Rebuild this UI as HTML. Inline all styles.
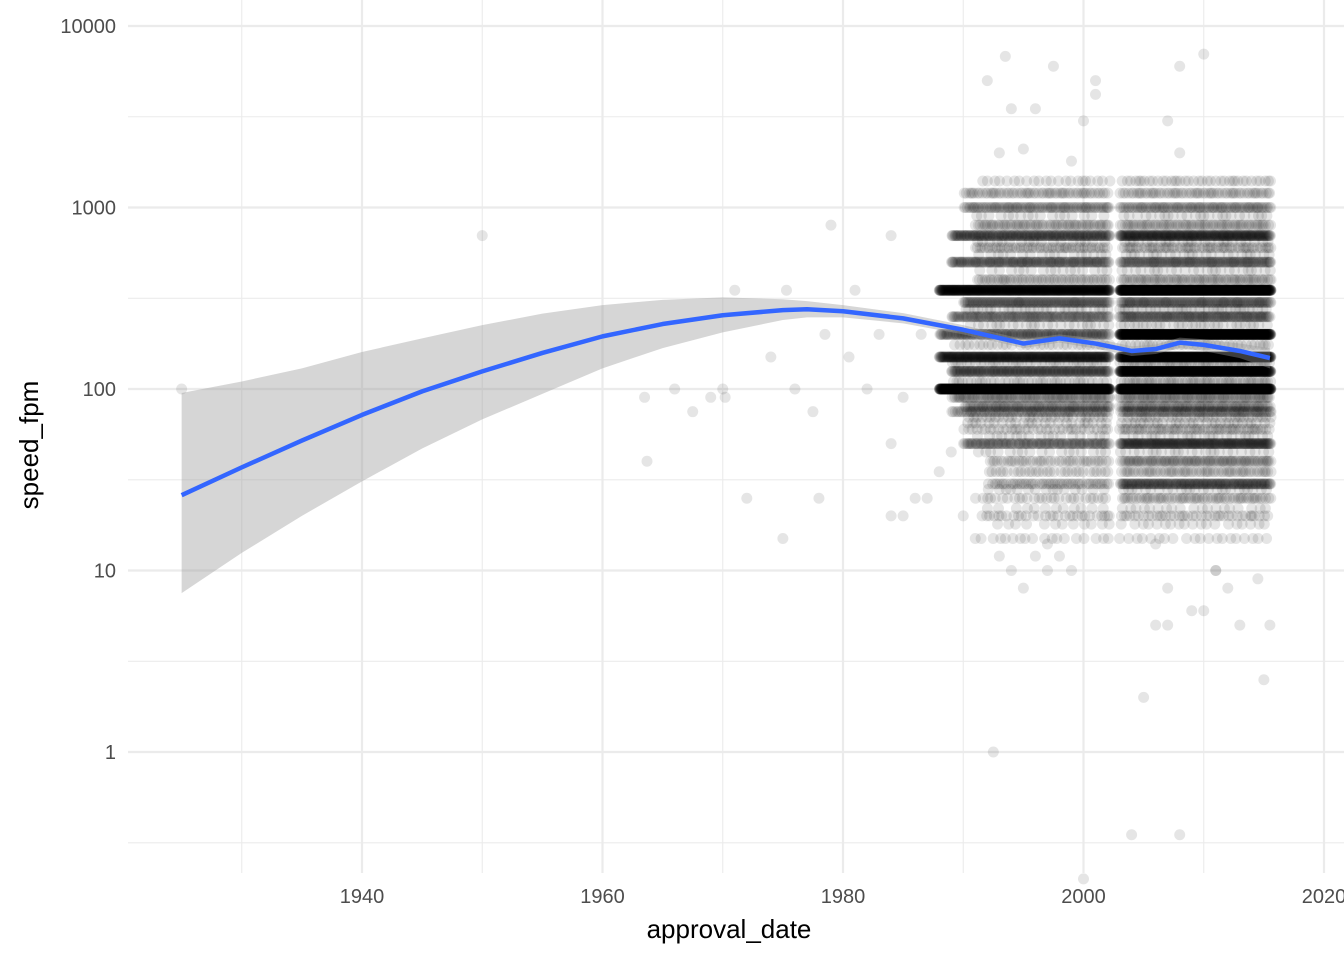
<!DOCTYPE html>
<html><head><meta charset="utf-8"><style>
html,body{margin:0;padding:0;background:#fff;}
svg{display:block;font-family:"Liberation Sans",sans-serif;}
</style></head><body>
<svg id="chart" width="1344" height="960" viewBox="0 0 1344 960" xmlns="http://www.w3.org/2000/svg">
<g id="grid"></g>
<g id="points"></g>
<g id="smooth"></g>
<g id="axes"></g>
<text x="729" y="938" font-size="26" text-anchor="middle" fill="#000">approval_date</text>
<text transform="translate(38,445) rotate(-90)" font-size="26" text-anchor="middle" fill="#000">speed_fpm</text>
</svg>
<script>
const xTicks=[1940,1960,1980,2000,2020];
const xMinor=[1930,1950,1970,1990,2010];
const yTicks=[1,10,100,1000,10000];
const yTickLabels=["1","10","100","1000","10000"];
const yMinor=[0.316,3.16,31.6,316,3162];
const bandSpeed=[100,125,150,200,250,300,350,400,500,600,700,800,1000,1200,1400,90,80,75,60,50,40,35,30,25,20,15,110,140,175,225,275,450,550,650,900,70,65,45,55,28,22,18];
const bandStart=[1988,1989,1988,1988,1989,1990,1988,1991,1989,1991,1989,1991,1990,1990,1991,1989,1990,1989,1990,1990,1992,1992,1992,1991,1991,1991,1989,1989,1989,1990,1990,1991,1991,1991,1991,1990,1990,1991,1991,1992,1992,1992];
const bandDensA=[7,1.5,2.5,1.2,1,1.2,4,0.5,1.2,0.5,1.5,0.6,0.8,0.5,0.2,0.8,0.8,0.7,0.3,1,0.4,0.3,0.5,0.25,0.25,0.15,0.3,0.3,0.25,0.2,0.25,0.15,0.15,0.15,0.15,0.25,0.2,0.15,0.15,0.15,0.12,0.12];
const bandDensB=[8,5,5,6,1.2,1.2,7,0.6,1.2,0.5,2,0.6,0.8,0.5,0.3,0.8,0.8,0.8,0.5,1.8,0.8,0.5,1.4,0.5,0.3,0.15,0.5,0.5,0.3,0.25,0.3,0.2,0.2,0.2,0.2,0.3,0.25,0.2,0.2,0.2,0.15,0.15];
const ptYear=[1925,1950,1963.5,1963.7,1966,1967.5,1969,1970,1970.2,1971,1972,1974,1975,1975.3,1976,1977.5,1978,1978.5,1979,1980.5,1981,1982,1983,1984,1984,1984,1985,1986,1985,1992,1993,1993.5,1994,1995,1996,1997.5,1999,2000,2001,2001,2007,2008,2008,2010,1992.5,2004,2008,2000,2005,2006,2007,2007,2009,2010,2011,2012,2013,2014.5,2015,2015.5,1994,1995,1996,1997,1998,1999,2003,1990,1991,1987,1986.5,1988,1989,1993,1997,2002,2006,2011,2014];
const ptSpeed=[100,700,90,40,100,75,90,100,90,350,25,150,15,350,100,75,25,200,800,150,350,100,200,700,50,20,20,25,90,5000,2000,6800,3500,2100,3500,6000,1800,3000,5000,4200,3000,6000,2000,7000,1,0.35,0.35,0.2,2,5,5,8,6,6,10,8,5,9,2.5,5,10,8,12,10,12,10,15,20,15,25,200,35,45,12,14,20,14,10,20];
const fitYear=[1925,1930,1935,1940,1945,1950,1955,1960,1965,1970,1975,1977,1980,1985,1990,1995,1998,2001,2004,2006,2008,2010,2013,2015.5];
const fitVal=[26,37,52,72,97,125,158,195,228,255,272,275,268,245,212,178,190,178,162,166,180,175,162,148];
const fitHi=[95,110,130,160,190,225,260,290,310,320,312,305,290,262,225,188,200,190,172,176,192,188,178,168];
const fitLo=[7.5,12.5,20,31,47,68,94,130,168,205,240,248,248,230,200,168,180,167,152,156,168,162,148,130];

const NS="http://www.w3.org/2000/svg";
const X0=128,X1=1344,Y0=0,Y1=873;
const xs=y=>362+(y-1940)*12.025;
const ys=v=>752-181.5*Math.log10(v);
function mk(tag,attrs,parent){const e=document.createElementNS(NS,tag);for(const k in attrs)e.setAttribute(k,attrs[k]);parent.appendChild(e);return e;}
const grid=document.getElementById('grid'),pts=document.getElementById('points'),sm=document.getElementById('smooth'),axes=document.getElementById('axes');
xMinor.forEach(t=>{const l=mk('line',{x1:xs(t),x2:xs(t),y1:Y0,y2:Y1,stroke:'#ebebeb','stroke-width':1.1},grid);
});
yMinor.forEach(t=>{const l=mk('line',{x1:X0,x2:X1,y1:ys(t),y2:ys(t),stroke:'#ebebeb','stroke-width':1.1},grid);
});
xTicks.forEach(t=>{const l=mk('line',{x1:xs(t),x2:xs(t),y1:Y0,y2:Y1,stroke:'#ebebeb','stroke-width':2.2},grid);

const tx=mk('text',{x:xs(t),y:903,'font-size':20,'text-anchor':'middle',fill:'#4d4d4d'},axes);tx.textContent=t;
});
yTicks.forEach((t,i)=>{const l=mk('line',{x1:X0,x2:X1,y1:ys(t),y2:ys(t),stroke:'#ebebeb','stroke-width':2.2},grid);

const tx=mk('text',{x:116,y:ys(t)+7,'font-size':20,'text-anchor':'end',fill:'#4d4d4d'},axes);tx.textContent=yTickLabels[i];
});
// dense bands (low-discrepancy spacing for a natural look)
bandSpeed.forEach((s,i)=>{
  const segs=[[bandStart[i],2002.2,bandDensA[i]],[2003,2015.6,bandDensB[i]]];
  segs.forEach(([a,b,d],si)=>{const n=Math.round((b-a)*10*d);for(let k=0;k<n;k++){
    const f=((k+1+i*0.37+si*0.5)*0.6180339887)%1;
    const c=mk('circle',{cx:xs(a+(b-a)*f),cy:ys(s),r:5.5,fill:'#000','fill-opacity':0.1},pts);
    }});
});
ptYear.forEach((y,i)=>{const c=mk('circle',{cx:xs(y),cy:ys(ptSpeed[i]),r:5.5,fill:'#000','fill-opacity':0.1},pts);
});
// ribbon
let d='M'+fitYear.map((y,i)=>xs(y)+','+ys(fitHi[i])).join('L');
for(let i=fitYear.length-1;i>=0;i--)d+='L'+xs(fitYear[i])+','+ys(fitLo[i]);
const rb=mk('path',{d:d+'Z',fill:'#999','fill-opacity':0.4},sm);

const ln=mk('polyline',{points:fitYear.map((y,i)=>xs(y)+','+ys(fitVal[i])).join(' '),fill:'none',stroke:'#3366ff','stroke-width':4.5,'stroke-linejoin':'round'},sm);

</script>
</body></html>
